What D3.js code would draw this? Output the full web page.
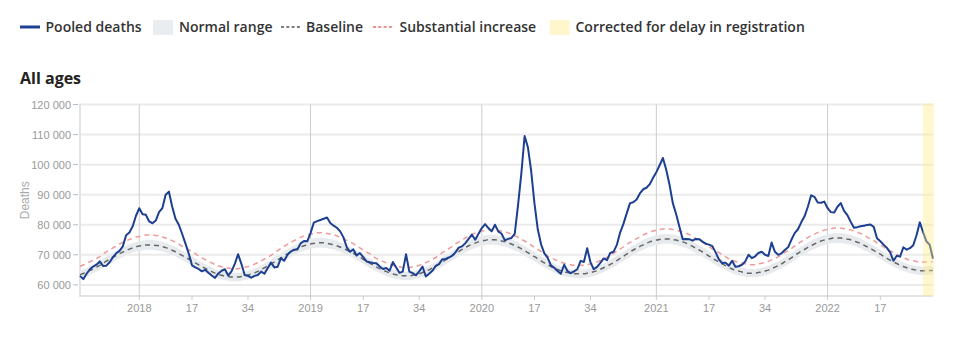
<!DOCTYPE html>
<html><head><meta charset="utf-8">
<script src="https://cdn.jsdelivr.net/npm/d3@7"></script>
<style>body{margin:0;background:#fff}svg{display:block}</style>
</head><body><svg id="c" width="962" height="339"></svg>
<script>
// ---- data ----
const yearWeeks = [[2017,52],[2018,52],[2019,52],[2020,53],[2021,52],[2022,52]];
const firstWeek = [2017,35];
const labelledWeeks = [17,34];
const pooledDeaths = [
63000,61900,63700,65200,66100,66700,67800,66300,66400,67500,69200,70500,71300,72800,76500,77400,79500,83000,85500,83500,
83300,81100,80500,81400,84200,85500,90000,91000,86000,82000,80000,77000,73800,70500,66500,65800,65300,64500,65000,64000,
63100,62300,63800,64700,65200,63100,64500,67000,70200,67000,63300,63000,62400,63000,63300,64400,63700,65600,67400,65800,
66000,68900,68000,70000,71100,71700,71800,73800,74600,74500,77200,80700,81200,81600,82000,82400,80600,79700,79000,77800,
75800,72500,71000,71800,69800,70600,69200,67800,67500,67300,67200,66100,65300,65600,64700,67600,65800,64000,64400,70200,
64400,63900,63200,64500,66100,62800,63700,64700,66300,66900,68500,68600,69100,69700,70800,72400,72800,73900,75300,76700,
75000,77000,78900,80200,78900,77800,80000,77800,77000,74800,75300,75600,77000,86500,97000,109500,105800,97800,87000,78500,
73500,70500,69000,66500,65700,64600,63700,66700,64600,63900,64500,65200,68000,67600,72200,67500,65200,66000,67300,68800,
68200,70600,71000,73300,77400,80300,83800,87200,87500,88400,90400,91800,92300,93500,95600,97500,99800,102200,98300,93300,
87200,83600,79300,75200,75300,75200,74700,75300,75200,74400,73700,73400,72900,70800,68500,67200,67400,66400,68000,66000,
66200,66700,67800,70000,68900,69500,70600,71000,70000,69600,74100,71000,70000,70500,71600,72500,75000,77200,78500,80800,
82800,86000,89800,89300,87400,87300,87700,85500,84200,84100,86000,87200,84600,83200,81000,79000,79200,79500,79700,79900,
80100,79300,75500,74500,73400,72300,70800,68000,69700,69400,72500,71700,72200,73200,76500,80800,77500,74500,73300,68700];
const baseline = [
63400,63800,64200,64800,65300,65900,66500,67200,67900,68500,69200,69800,70400,70900,71500,71900,72300,72700,72900,73100,
73300,73300,73300,73100,73000,72700,72400,72000,71500,71000,70400,69800,69200,68600,68000,67300,66700,66100,65500,64900,
64400,63900,63500,63200,62900,62800,62600,62600,62600,62800,63000,63300,63600,64000,64500,65100,65700,66300,66900,67600,
68300,69000,69700,70300,70900,71500,72100,72600,73000,73300,73600,73800,74000,74000,74000,73800,73600,73400,73000,72600,
72100,71600,71100,70500,69800,69200,68500,67800,67200,66600,65900,65400,64900,64400,64000,63600,63400,63200,63000,63000,
63000,63200,63400,63700,64100,64500,65000,65600,66200,66900,67600,68300,69000,69700,70400,71100,71800,72400,73000,73500,
73900,74300,74600,74800,75000,75000,75000,74800,74600,74400,74000,73600,73100,72600,72000,71400,70700,70000,69400,68700,
68000,67300,66700,66100,65600,65100,64700,64300,64100,63900,63700,63700,63700,63700,63900,64100,64400,64700,65200,65700,
66200,66800,67400,68100,68800,69500,70200,70900,71600,72200,72800,73300,73800,74300,74600,74900,75100,75300,75300,75300,
75100,74900,74600,74300,73900,73400,72800,72200,71600,71000,70300,69600,68900,68200,67600,67000,66400,65800,65300,64900,
64600,64300,64100,63900,63900,63900,64100,64300,64600,64900,65400,65900,66400,67000,67700,68300,69000,69800,70500,71200,
71800,72500,73100,73600,74100,74600,74900,75200,75400,75600,75600,75600,75400,75200,75000,74600,74200,73800,73200,72700,
72100,71500,70800,70200,69500,68800,68200,67600,67100,66500,66100,65700,65300,65100,64900,64700,64700,64700,64800,64800];
const substantialIncrease = [
66200,66600,67100,67700,68200,68800,69400,70300,71000,71600,72300,72900,73600,74100,74700,75100,75500,75900,76100,76400,
76600,76600,76600,76400,76300,75900,75600,75200,74700,74200,73600,72900,72300,71700,71100,70400,69600,69000,68400,67800,
67300,66700,66300,66000,65700,65600,65400,65400,65400,65600,65800,66100,66400,66900,67400,68000,68600,69200,69800,70700,
71400,72100,72800,73500,74100,74700,75300,75800,76300,76600,76900,77100,77300,77300,77300,77100,76900,76700,76300,75800,
75300,74800,74300,73700,72900,72300,71600,70900,70300,69500,68800,68300,67800,67300,66900,66400,66200,66000,65800,65800,
65800,66000,66200,66500,67000,67400,67900,68500,69100,69800,70700,71400,72100,72800,73600,74300,75000,75600,76300,76800,
77200,77600,77900,78100,78300,78300,78300,78100,77900,77700,77300,76900,76400,75800,75200,74600,73900,73200,72500,71800,
71100,70400,69600,69000,68500,68000,67600,67200,67000,66700,66500,66500,66500,66500,66700,67000,67300,67600,68100,68600,
69100,69700,70500,71200,71900,72600,73400,74100,74800,75400,76000,76600,77100,77600,77900,78200,78400,78600,78600,78600,
78400,78200,77900,77600,77200,76700,76000,75400,74800,74200,73500,72700,72000,71300,70700,70100,69300,68700,68200,67800,
67500,67200,67000,66700,66700,66700,67000,67200,67500,67800,68300,68800,69300,70100,70800,71400,72100,72900,73700,74400,
75000,75700,76400,76900,77400,77900,78200,78500,78700,78900,78900,78900,78700,78500,78300,77900,77500,77100,76500,75900,
75300,74700,74000,73400,72600,71900,71300,70700,70200,69400,69000,68600,68200,68000,67800,67600,67600,67600,67700,67700];
const correctedWeeks = 3;
const yTickValues = [60000,70000,80000,90000,100000,110000,120000];
const legendLabels = ["Pooled deaths","Normal range","Baseline","Substantial increase","Corrected for delay in registration"];
const titleText = "All ages";
const yLabel = "Deaths";

// ---- categories (ISO year-week) ----
const weeks = [];
{
  let yi = yearWeeks.findIndex(d => d[0] === firstWeek[0]);
  let w = firstWeek[1];
  while (weeks.length < pooledDeaths.length) {
    weeks.push({year: yearWeeks[yi][0], week: w});
    w++;
    if (w > yearWeeks[yi][1]) { w = 1; yi++; }
  }
}
const n = weeks.length;

// ---- layout ----
const svg = d3.select("#c");
const L = 80, R = 933, T = 104.5, B = 296;
const x = d3.scaleLinear().domain([0, n - 1]).range([L, R]);
const y = d3.scaleLinear().domain([56300, 120000]).range([B, T]);
const blue = "#1c3f91";
const tickFont = "'Liberation Sans', Arial, sans-serif";
const mainFont = "'Open Sans', sans-serif";

// legend
const lg = svg.append("g").attr("font-family", mainFont).attr("font-size", 14).attr("font-weight", 600).attr("fill", "#333");
const ly = 27;
lg.append("line").attr("x1", 20).attr("x2", 40).attr("y1", ly).attr("y2", ly).attr("stroke", blue).attr("stroke-width", 3);
lg.append("text").attr("x", 45.5).attr("y", ly + 5).text(legendLabels[0]);
lg.append("rect").attr("x", 153).attr("y", 20).attr("width", 20).attr("height", 15).attr("fill", "#eaedf0");
lg.append("text").attr("x", 179).attr("y", ly + 5).text(legendLabels[1]);
lg.append("line").attr("x1", 281).attr("x2", 301).attr("y1", ly).attr("y2", ly).attr("stroke", "#555").attr("stroke-width", 1.5).attr("stroke-dasharray", "3,2.3");
lg.append("text").attr("x", 306).attr("y", ly + 5).text(legendLabels[2]);
lg.append("line").attr("x1", 373).attr("x2", 393).attr("y1", ly).attr("y2", ly).attr("stroke", "#e66f6f").attr("stroke-width", 1.5).attr("stroke-dasharray", "3,2.3");
lg.append("text").attr("x", 399.5).attr("y", ly + 5).text(legendLabels[3]);
lg.append("rect").attr("x", 550).attr("y", 20).attr("width", 19.5).attr("height", 15).attr("fill", "#fff6cc");
lg.append("text").attr("x", 575.5).attr("y", ly + 5).text(legendLabels[4]);

// title
svg.append("text").attr("x", 20).attr("y", 83.5).attr("font-family", mainFont).attr("font-size", 16).attr("font-weight", 700).attr("fill", "#222").text(titleText);

// grid lines
const fmt = v => d3.format(",")(v).replace(/,/g, " ");
svg.append("g").selectAll("line").data(yTickValues).join("line")
  .attr("x1", L).attr("x2", R).attr("y1", d => y(d)).attr("y2", d => y(d))
  .attr("stroke", "#ebebeb").attr("stroke-width", 2);
svg.append("g").selectAll("line").data(yTickValues).join("line")
  .attr("x1", 73).attr("x2", 78).attr("y1", d => y(d)).attr("y2", d => y(d))
  .attr("stroke", "#bbb").attr("stroke-width", 1);
svg.append("g").attr("font-family", tickFont).attr("font-size", 11).attr("fill", "#999").attr("text-anchor", "end")
  .selectAll("text").data(yTickValues).join("text")
  .attr("x", 71).attr("y", d => y(d) + 4).text(fmt);
svg.append("text").attr("transform", `translate(29,${(T + B) / 2}) rotate(-90)`).attr("text-anchor", "middle")
  .attr("font-family", tickFont).attr("font-size", 12).attr("fill", "#aaa").text(yLabel);

// axes frame
svg.append("line").attr("x1", L).attr("x2", L).attr("y1", T - 1).attr("y2", B + 1).attr("stroke", "#e3e3e3").attr("stroke-width", 2);
svg.append("line").attr("x1", L - 1).attr("x2", R).attr("y1", B).attr("y2", B).attr("stroke", "#e3e3e3").attr("stroke-width", 2);

// x ticks
const xTicks = weeks.map((d, i) => ({...d, i})).filter(d => d.week === 1 || labelledWeeks.includes(d.week));
svg.append("g").selectAll("line").data(xTicks).join("line")
  .attr("x1", d => x(d.i)).attr("x2", d => x(d.i))
  .attr("y1", d => d.week === 1 ? T : B).attr("y2", B + 4)
  .attr("stroke", "#ccc").attr("stroke-width", 1);
svg.append("g").attr("font-family", tickFont).attr("font-size", 11).attr("fill", "#999").attr("text-anchor", "middle")
  .selectAll("text").data(xTicks).join("text")
  .attr("x", d => x(d.i)).attr("y", 312)
  .text(d => d.week === 1 ? d.year : d.week);

// normal range band (baseline ± 2 sd, sd = (substantial - baseline) / 4)
const band = d3.area().x((d, i) => x(i))
  .y0((d, i) => y(baseline[i] - (substantialIncrease[i] - baseline[i]) / 2))
  .y1((d, i) => y(baseline[i] + (substantialIncrease[i] - baseline[i]) / 2))
  .curve(d3.curveMonotoneX);
svg.append("path").datum(baseline).attr("d", band).attr("fill", "#e8ebee");

const lineGen = arr => d3.line().x((d, i) => x(i)).y(d => y(d)).curve(d3.curveMonotoneX)(arr);
svg.append("path").attr("d", lineGen(substantialIncrease)).attr("fill", "none").attr("stroke", "#ef9a9a").attr("stroke-width", 1.5).attr("stroke-dasharray", "5,4");
svg.append("path").attr("d", lineGen(baseline)).attr("fill", "none").attr("stroke", "#666").attr("stroke-width", 1.5).attr("stroke-dasharray", "5,4");

svg.append("path").datum(pooledDeaths)
  .attr("d", d3.line().x((d, i) => x(i)).y(d => y(d)))
  .attr("fill", "none").attr("stroke", blue).attr("stroke-width", 2).attr("stroke-linejoin", "round");

// corrected-for-delay overlay
svg.append("rect").attr("x", x(n - 1 - correctedWeeks)).attr("y", T - 1)
  .attr("width", x(n - 1) - x(n - 1 - correctedWeeks) + 1).attr("height", B - T + 1)
  .attr("fill", "rgb(255,236,130)").attr("opacity", 0.4);
</script></body></html>
